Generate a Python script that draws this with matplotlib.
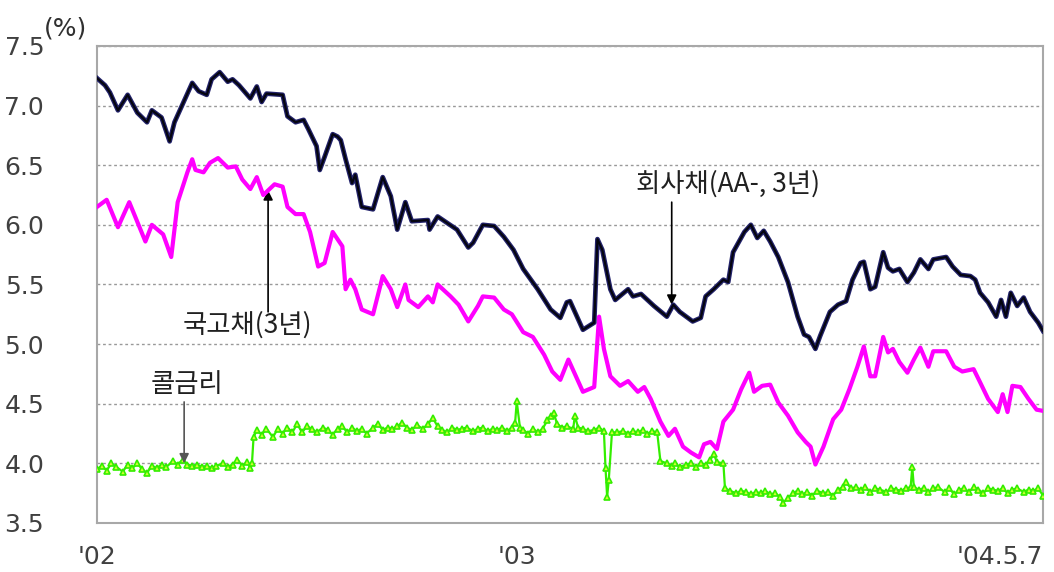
import numpy as np, matplotlib
matplotlib.use("Agg"); import matplotlib.pyplot as plt

plt.rcParams['font.family'] = ['Noto Sans CJK KR', 'DejaVu Sans']

# trading-day index (0 = start of '02, 260 = start of '03, 586 = '04.5.7)
corp_d = [0, 5, 8, 13, 19, 25, 31, 34, 40, 45, 48, 55, 59, 63, 68, 71, 76, 81, 84, 88, 95, 99, 102, 105, 115,
          118, 123, 128, 131, 136, 138, 141, 146, 149, 151, 154, 158, 160, 164, 171, 177, 182, 186, 191, 195,
          205, 206, 211, 223, 230, 233, 239, 246, 252, 258, 264, 273, 281, 287, 291, 293, 301, 308, 310, 313,
          318, 321, 329, 332, 337, 345, 353, 357, 361, 369, 374, 377, 382, 388, 391, 394, 401, 405, 409, 413,
          417, 422, 428, 434, 438, 441, 445, 448, 454, 459, 464, 468, 473, 475, 479, 482, 487, 490, 493, 497,
          502, 506, 510, 515, 518, 526, 530, 535, 541, 544, 547, 552, 557, 560, 563, 566, 570, 574, 578, 583, 586]
corp_v = [7.23, 7.17, 7.11, 6.96, 7.09, 6.94, 6.86, 6.96, 6.90, 6.70, 6.86, 7.07, 7.19, 7.12, 7.09, 7.22, 7.28,
          7.20, 7.22, 7.17, 7.06, 7.16, 7.03, 7.10, 7.09, 6.91, 6.86, 6.88, 6.80, 6.66, 6.46, 6.57, 6.76, 6.74,
          6.71, 6.55, 6.35, 6.42, 6.15, 6.13, 6.40, 6.24, 5.96, 6.19, 6.03, 6.04, 5.96, 6.07, 5.96, 5.81, 5.85,
          6.00, 5.99, 5.90, 5.79, 5.63, 5.46, 5.29, 5.22, 5.35, 5.36, 5.12, 5.18, 5.88, 5.79, 5.46, 5.37, 5.46,
          5.40, 5.42, 5.32, 5.23, 5.33, 5.27, 5.19, 5.22, 5.40, 5.46, 5.54, 5.52, 5.77, 5.94, 6.00, 5.89, 5.95,
          5.86, 5.73, 5.52, 5.23, 5.08, 5.06, 4.96, 5.07, 5.27, 5.33, 5.36, 5.54, 5.68, 5.69, 5.46, 5.48, 5.77,
          5.64, 5.61, 5.63, 5.52, 5.60, 5.71, 5.63, 5.71, 5.73, 5.65, 5.58, 5.57, 5.54, 5.43, 5.35, 5.23, 5.37,
          5.23, 5.43, 5.32, 5.39, 5.27, 5.18, 5.11]

ktb_d = [0, 6, 13, 20, 30, 34, 41, 46, 50, 56, 59, 61, 66, 70, 75, 81, 86, 90, 95, 99, 103, 110, 115, 118, 123,
         128, 132, 137, 141, 146, 152, 154, 157, 160, 164, 171, 177, 182, 186, 191, 193, 199, 205, 208, 211, 219,
         224, 230, 236, 239, 246, 252, 257, 264, 270, 277, 282, 287, 292, 301, 308, 311, 314, 318, 324, 329, 335,
         339, 343, 349, 354, 358, 363, 368, 373, 376, 380, 384, 388, 394, 399, 404, 407, 412, 417, 422, 428, 434,
         439, 442, 445, 450, 456, 461, 466, 471, 475, 479, 482, 487, 490, 493, 497, 502, 506, 510, 515, 518, 526,
         531, 536, 543, 547, 552, 558, 561, 564, 567, 572, 577, 582, 586]
ktb_v = [6.15, 6.21, 5.98, 6.19, 5.86, 6.00, 5.92, 5.73, 6.19, 6.44, 6.55, 6.46, 6.44, 6.52, 6.56, 6.48, 6.49,
         6.38, 6.30, 6.40, 6.25, 6.34, 6.32, 6.15, 6.09, 6.09, 5.94, 5.65, 5.68, 5.94, 5.82, 5.46, 5.54, 5.46,
         5.29, 5.25, 5.57, 5.46, 5.31, 5.50, 5.37, 5.31, 5.40, 5.35, 5.50, 5.40, 5.33, 5.19, 5.32, 5.40, 5.39,
         5.29, 5.25, 5.10, 5.06, 4.91, 4.77, 4.70, 4.87, 4.60, 4.64, 5.23, 4.96, 4.73, 4.65, 4.69, 4.60, 4.64,
         4.54, 4.35, 4.23, 4.29, 4.14, 4.09, 4.05, 4.16, 4.18, 4.12, 4.35, 4.45, 4.62, 4.76, 4.60, 4.65, 4.66,
         4.51, 4.40, 4.26, 4.18, 4.14, 3.99, 4.14, 4.37, 4.45, 4.62, 4.81, 4.98, 4.73, 4.73, 5.06, 4.93, 4.96,
         4.85, 4.76, 4.87, 4.97, 4.81, 4.94, 4.94, 4.81, 4.77, 4.79, 4.68, 4.54, 4.43, 4.58, 4.43, 4.65, 4.64,
         4.54, 4.45, 4.44]

call_d = [0, 3, 6, 9, 12, 16, 19, 22, 25, 28, 31, 34, 37, 40, 43, 47, 50, 53, 56, 59, 62, 65, 68, 71, 74, 78,
          81, 84, 87, 90, 93, 95, 96, 97, 99, 102, 105, 109, 112, 115, 118, 121, 124, 127, 130, 133, 136, 140,
          143, 146, 149, 152, 155, 158, 161, 164, 167, 171, 174, 177, 180, 183, 186, 189, 192, 195, 198, 202,
          205, 208, 211, 214, 217, 220, 223, 226, 229, 233, 236, 239, 242, 245, 248, 251, 254, 257, 259, 260,
          262, 264, 267, 270, 273, 276, 279, 281, 283, 285, 288, 291, 295, 296, 298, 301, 304, 308, 311, 314,
          315, 316, 317, 319, 322, 326, 329, 332, 335, 338, 341, 344, 347, 349, 353, 356, 358, 361, 365, 368,
          371, 374, 377, 380, 382, 384, 388, 389, 392, 396, 399, 402, 405, 408, 411, 414, 417, 420, 423, 425,
          428, 431, 434, 437, 440, 443, 446, 450, 453, 456, 459, 462, 464, 467, 470, 473, 476, 479, 482, 485,
          489, 492, 495, 498, 501, 504, 505, 506, 509, 512, 515, 518, 521, 525, 528, 531, 534, 537, 540, 543,
          546, 549, 552, 555, 558, 561, 564, 567, 570, 574, 577, 580, 583, 586]
call_v = [3.95, 3.98, 3.94, 4.00, 3.97, 3.93, 3.99, 3.96, 4.00, 3.95, 3.92, 3.98, 3.96, 3.99, 3.97, 4.02, 3.99,
          4.03, 3.99, 3.98, 3.99, 3.97, 3.98, 3.96, 3.98, 4.00, 3.97, 3.99, 4.03, 3.98, 4.01, 3.96, 4.00, 4.22,
          4.28, 4.24, 4.29, 4.22, 4.29, 4.25, 4.30, 4.26, 4.33, 4.26, 4.31, 4.29, 4.26, 4.30, 4.28, 4.24, 4.29,
          4.31, 4.26, 4.30, 4.27, 4.29, 4.25, 4.30, 4.33, 4.28, 4.30, 4.29, 4.31, 4.34, 4.30, 4.28, 4.32, 4.29,
          4.33, 4.38, 4.31, 4.28, 4.26, 4.30, 4.28, 4.29, 4.30, 4.27, 4.29, 4.30, 4.27, 4.29, 4.28, 4.30, 4.27,
          4.30, 4.34, 4.52, 4.30, 4.28, 4.25, 4.29, 4.26, 4.29, 4.36, 4.40, 4.42, 4.33, 4.30, 4.31, 4.29, 4.40,
          4.30, 4.29, 4.27, 4.28, 4.30, 4.27, 3.96, 3.72, 3.86, 4.26, 4.26, 4.27, 4.25, 4.27, 4.26, 4.28, 4.25,
          4.27, 4.26, 4.02, 4.00, 3.98, 4.00, 3.97, 3.99, 4.00, 3.97, 4.00, 3.99, 4.03, 4.08, 4.01, 4.00, 3.79,
          3.77, 3.75, 3.77, 3.76, 3.74, 3.76, 3.75, 3.77, 3.74, 3.75, 3.72, 3.67, 3.71, 3.75, 3.77, 3.74, 3.76,
          3.73, 3.77, 3.75, 3.76, 3.73, 3.78, 3.80, 3.84, 3.79, 3.80, 3.78, 3.80, 3.76, 3.79, 3.78, 3.76, 3.79,
          3.78, 3.77, 3.79, 3.80, 3.97, 3.80, 3.78, 3.79, 3.76, 3.79, 3.80, 3.76, 3.79, 3.74, 3.78, 3.79, 3.76,
          3.80, 3.78, 3.75, 3.79, 3.78, 3.77, 3.79, 3.75, 3.78, 3.79, 3.76, 3.78, 3.77, 3.79, 3.73]

xtick_pos = [0, 260, 586]
xtick_lab = ["'02", "'03", "'04.5.7"]
yticks = [3.5, 4.0, 4.5, 5.0, 5.5, 6.0, 6.5, 7.0, 7.5]

fig = plt.figure(figsize=(10.54, 5.72), dpi=100)
ax = fig.add_axes([0.092, 0.0857, 0.8976, 0.834])

ax.plot(call_d, call_v, '-', color='#33ee00', lw=1.6, marker='^', ms=5,
        mfc='#ccff33', mec='#33ee00', mew=1.2, zorder=3)
ax.plot(ktb_d, ktb_v, '-', color='#ff00ff', lw=3.0, zorder=4)
ax.plot(corp_d, corp_v, '-', color='#22226a', lw=3.4, zorder=5)
ax.plot(corp_d, corp_v, '-', color='#050510', lw=1.6, zorder=6)

ax.set_xlim(0, 586); ax.set_ylim(3.5, 7.5)
ax.set_yticks(yticks); ax.set_yticklabels([f'{v:.1f}' for v in yticks])
ax.set_xticks(xtick_pos); ax.set_xticklabels(xtick_lab)
ax.get_xticklabels()[-1].set_horizontalalignment('right')
ax.tick_params(length=0, labelsize=18, labelcolor='#404040')
for t in ax.get_xticklabels() + ax.get_yticklabels():
    t.set_fontfamily('DejaVu Sans')
ax.tick_params(axis='y', pad=38); ax.tick_params(axis='x', pad=16)
ax.yaxis.grid(True, color='#999999', ls=(0, (2, 2)), lw=1.0)
for s in ax.spines.values():
    s.set_color('#a8a8a8'); s.set_linewidth(1.5)

fig.text(0.042, 0.95, '(%)', fontsize=18, color='#303030', va='center', family='DejaVu Sans')

arr = dict(arrowstyle='-|>', color='black', lw=1.2, mutation_scale=14, shrinkA=0, shrinkB=0)
ax.annotate('', xy=(356, 5.33), xytext=(356, 6.19), arrowprops=arr)
ax.text(391, 6.34, '회사채(AA-, 3년)', fontsize=19, color='#202020', ha='center', va='center')
ax.annotate('', xy=(106, 6.29), xytext=(106, 5.27), arrowprops=arr)
ax.text(93, 5.16, '국고채(3년)', fontsize=19, color='#202020', ha='center', va='center')
arr2 = dict(arr, color='#555555')
ax.annotate('', xy=(54, 4.0), xytext=(54, 4.515), arrowprops=arr2)
ax.text(56, 4.66, '콜금리', fontsize=19, color='#202020', ha='center', va='center')

fig.savefig('out.png', dpi=100)
